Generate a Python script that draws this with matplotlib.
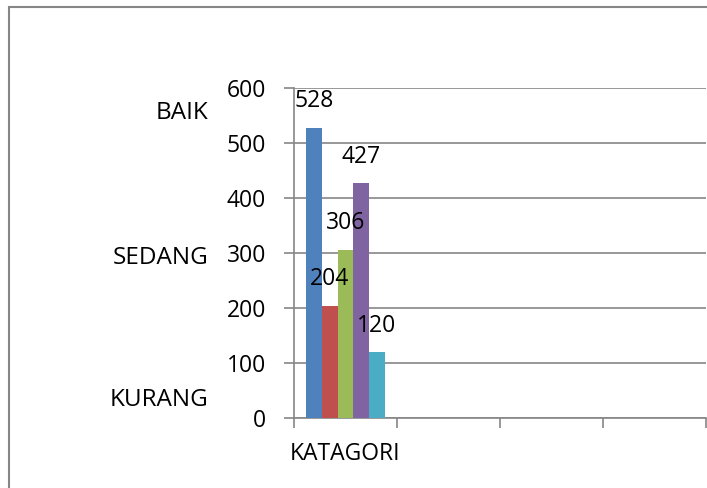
import numpy as np
import matplotlib.pyplot as plt
from matplotlib.patches import Rectangle

plt.rcParams['font.family'] = ['Open Sans', 'DejaVu Sans']

# data
categories = ['KATAGORI', '', '', '']
values = [528, 204, 306, 427, 120]
colors = ['#4F81BD', '#C0504D', '#9BBB59', '#8064A2', '#4BACC6']
yticks = [0, 100, 200, 300, 400, 500, 600]
side_labels = ['BAIK', 'SEDANG', 'KURANG']

fig = plt.figure(figsize=(7.07, 4.88), dpi=100)
ax = fig.add_axes([294/707, 1-418/488, 412/707, 330/488])

bw = 0.152
for i, (v, c) in enumerate(zip(values, colors)):
    xpos = 0 + (i-2)*bw
    ax.bar(xpos, v, width=bw, color=c, zorder=3)
    ax.annotate(str(v), (xpos, v), xytext=(0, 19), textcoords='offset points',
                ha='center', va='center', fontsize=16.5, color='black', zorder=4)

ax.set_xlim(-0.5, len(categories)-0.5)
ax.set_ylim(0, 600)
ax.set_yticks(yticks)
ax.set_xticks(range(len(categories)))
ax.set_xticklabels(categories, fontsize=16.5)
ax.set_xticks(np.arange(-0.5, len(categories)), minor=True)
ax.tick_params(axis='x', which='major', length=0, pad=17)
ax.tick_params(axis='x', which='minor', length=7, color='#868686', width=1.2)
ax.tick_params(axis='y', length=7, color='#868686', width=1.2, pad=13, labelsize=16.5)
ax.yaxis.grid(True, color='#868686', linewidth=1.2, zorder=0)
for s in ['top', 'right']:
    ax.spines[s].set_visible(False)
for s in ['left', 'bottom']:
    ax.spines[s].set_color('#868686')
    ax.spines[s].set_linewidth(1.2)

# side category texts
fig.text(208/707, 1-113/488, side_labels[0], ha='right', va='center', fontsize=17.5)
fig.text(208/707, 1-258/488, side_labels[1], ha='right', va='center', fontsize=17.5)
fig.text(208/707, 1-400/488, side_labels[2], ha='right', va='center', fontsize=17.5)

# chart frame
fig.patches.append(Rectangle((9/707, -0.1), 1.2, 1-7/488+0.1, transform=fig.transFigure,
                             fill=False, edgecolor='#868686', linewidth=1.5))

fig.savefig('out.png', dpi=100)
